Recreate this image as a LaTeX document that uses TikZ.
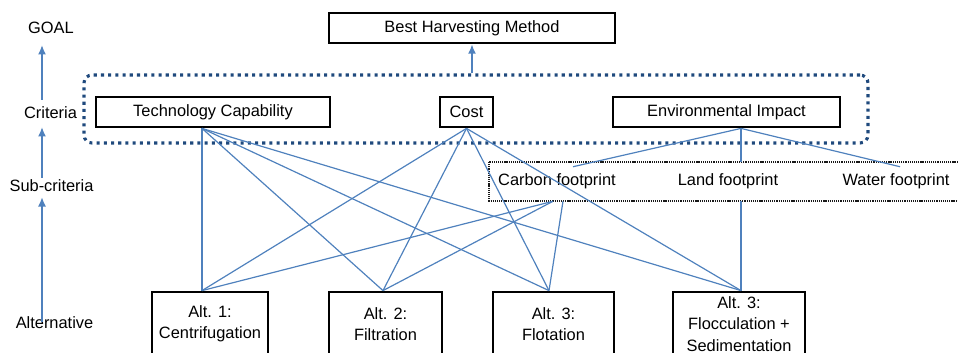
\documentclass[tikz,border=0pt]{standalone}
\usepackage{fontspec}
\setmainfont{Liberation Sans}
\usetikzlibrary{calc,arrows.meta}

\definecolor{linkblue}{RGB}{79,129,189}
\definecolor{frameblue}{RGB}{31,73,125}

\tikzset{
  critbox/.style={draw=black, line width=2.1pt, minimum height=22.5pt, inner sep=0pt},
  altbox/.style={draw=black, line width=2.1pt, minimum height=48pt, inner sep=0pt, align=center},
  subtext/.style={minimum height=29.25pt, inner sep=0pt},
  lvl/.style={inner sep=0pt, text height=8.8pt, text depth=0pt},
  critframe/.style={draw=frameblue, line width=2.3pt, dash pattern=on 2.3pt off 3.1pt, rounded corners=6pt, inner sep=0pt},
  subframe/.style={draw=black!90, line width=0.9pt, dash pattern=on 0.9pt off 0.7pt},
  link/.style={draw=linkblue, line width=0.9pt},
  uparrow/.style={draw=linkblue, line width=1.1pt, -{Latex[length=7pt,width=6pt]}},
}

\begin{document}
\begin{tikzpicture}[x=0.75pt, y=-0.75pt, font=\fontsize{12.3}{16.1}\selectfont]
  \useasboundingbox (0,0) rectangle (958,353);
  \clip (0,0) rectangle (958,353);

  % levels on the left
  \coordinate (axis) at (42,0);
  \node[lvl] at (51,28) (lgoal) {GOAL};
  \node[lvl] at (50.5,113) (lcrit) {Criteria};
  \node[lvl] at (51.5,186) (lsub) {Sub-criteria};
  \node[lvl] at (54.5,323) (lalt) {Alternative};
  \draw[uparrow, shorten <=5.25pt, shorten >=8.25pt] (lcrit.north -| axis) -- (lgoal.south -| axis);
  \draw[uparrow, shorten <=1.5pt, shorten >=6pt] (lsub.north -| axis) -- (lcrit.south -| axis);
  \draw[uparrow, shorten <=-3.75pt, shorten >=3.8pt] (lalt.north -| axis) -- (lsub.south -| axis);

  % goal and criteria
  \node[critbox, minimum width=214.5pt] at (472,28) (best) {Best Harvesting Method};
  \node[critframe, minimum width=588pt, minimum height=51pt] at (476,109) (frame) {};
  \draw[uparrow] (frame.north -| best) -- (best.south);

  \node[critbox, minimum width=175.5pt] at (213,112) (tc) {Technology Capability};
  \node[critbox, minimum width=39.75pt] at (466.5,112) (cost) {Cost};
  \node[critbox, minimum width=170.25pt] at (726.5,112) (env) {Environmental Impact};

  % sub-criteria
  \draw[subframe] (489,162) rectangle (966,201);
  \node[subtext] at (557,181.5) (cf) {Carbon footprint};
  \node[subtext] at (728,181.5) (lf) {Land footprint};
  \node[subtext] at (896,181.5) (wf) {Water footprint};

  % alternatives
  \node[altbox, minimum width=87pt] at (210,324) (alt1) {Alt. 1:\\Centrifugation};
  \node[altbox, minimum width=84.75pt] at (385.5,324) (alt2) {Alt. 2:\\Filtration};
  \node[altbox, minimum width=90.75pt] at (553.5,324) (alt3) {Alt. 3:\\Flotation};
  \node[altbox, minimum width=99pt] at (739,324) (alt4) {Alt. 3:\\Flocculation +\\Sedimentation};

  % connection points
  \coordinate (tc-b) at ($(tc.south)+(-11,0)$);
  \coordinate (cost-b) at (cost.south);
  \coordinate (env-b) at ($(env.south)+(14.5,0)$);
  \coordinate (cf-t) at ($(cf.north)+(16,5)$);
  \coordinate (wf-t) at ($(wf.north)+(4,5)$);
  \coordinate (cf-bl) at ($(cf.south)+(-4,0)$);
  \coordinate (cf-br) at ($(cf.south)+(6,0)$);
  \coordinate (alt1-t) at (tc-b |- alt1.north);
  \coordinate (alt2-t) at ($(alt2.north)+(-2.5,0)$);
  \coordinate (alt3-t) at ($(alt3.north)+(-4.5,0)$);
  \coordinate (alt4-t) at (env-b |- alt4.north);

  \draw[link] (tc-b) -- (alt1-t);
  \draw[link] (tc-b) -- (alt2-t);
  \draw[link] (tc-b) -- (alt3-t);
  \draw[link] (tc-b) -- (alt4-t);

  \draw[link] (cost-b) -- (alt1-t);
  \draw[link] (cost-b) -- (alt2-t);
  \draw[link] (cost-b) -- (alt3-t);
  \draw[link] (cost-b) -- (alt4-t);

  \draw[link] (env-b) -- (cf-t);
  \draw[link] (env-b) -- (env-b |- lf.north);
  \draw[link] (env-b) -- (wf-t);

  \draw[link] (cf-bl) -- (alt1-t);
  \draw[link] (cf-bl) -- (alt2-t);
  \draw[link] (cf-br) -- (alt3-t);
  \draw[link] (env-b |- lf.south) -- (alt4-t);
\end{tikzpicture}
\end{document}
